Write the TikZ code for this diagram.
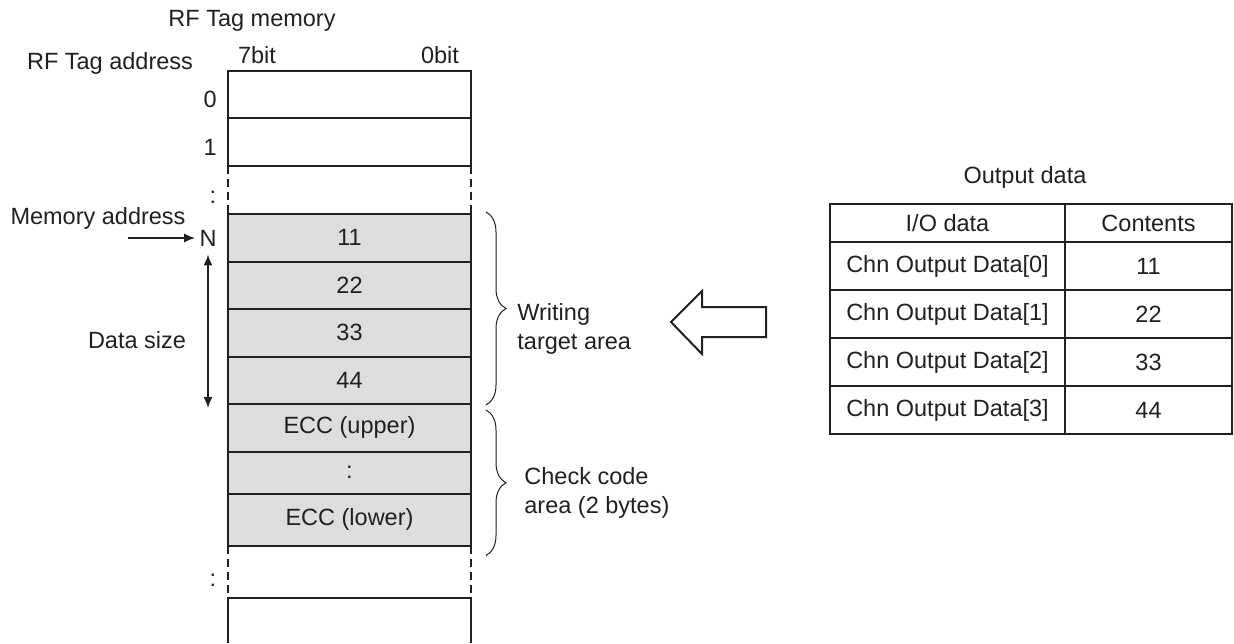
\documentclass[tikz,border=0pt]{standalone}
\usepackage{fontspec}
\setmainfont{Liberation Sans}
\usepackage{tikz}
\usetikzlibrary{arrows.meta, positioning, calc, decorations.pathreplacing}
\definecolor{tagInk}{HTML}{231F20}
\definecolor{tagCell}{HTML}{DCDDDE}

\begin{document}
\begin{tikzpicture}[
  x=0.5pt, y=-0.5pt,
  font=\fontsize{11.75}{14.5}\selectfont, color=tagInk,
  cell/.style={draw=tagInk, line width=1pt, minimum width=121.5pt, minimum height=23.75pt,
               inner sep=0pt, outer sep=0pt},
  wcell/.style={cell, fill=tagCell},
  lbl/.style={inner sep=0pt},
  gapline/.style={draw=tagInk, line width=1pt, dash pattern=on 4pt off 2.5pt},
  memline/.style={draw=tagInk, line width=1pt},
  brc/.style={draw=tagInk, line width=0.5pt, decorate, decoration={brace, amplitude=10pt}},
  ptr/.style={-{Latex[length=5.5pt, width=4.5pt]}, line width=0.8pt},
  dimarr/.style={{Latex[length=5.5pt, width=4.5pt]}-{Latex[length=5.5pt, width=4.5pt]}, line width=0.8pt},
  tcell/.style={draw=tagInk, line width=1pt, inner sep=0pt, outer sep=0pt, minimum height=24pt},
  iocol/.style={tcell, minimum width=117.5pt},
  ctcol/.style={tcell, minimum width=83.5pt},
  hollow/.style={draw=tagInk, line width=1pt, fill=white, line join=miter},
]
\useasboundingbox (0,0) rectangle (1234,643);

\node[lbl] (memtitle) at (252,21) {RF Tag memory};
\node[lbl] (addrtitle) at (110,63) {RF Tag address};
\node[lbl] (bit7) at (257,55) {7bit};
\node[lbl] (bit0) at (440,55) {0bit};

\node[cell] (row0) at (349.5,94.5) {};
\node[cell, below=0pt of row0] (row1) {};
\node[wcell] (d11) at (349.5,237.75) {11};
\node[wcell, below=0pt of d11] (d22) {22};
\node[wcell, below=0pt of d22] (d33) {33};
\node[wcell, below=0pt of d33] (d44) {44};
\node[wcell, below=0pt of d44] (eccU) {ECC (upper)};
\node[wcell, below=0pt of eccU, minimum height=21pt] (eccdots) {:};
\node[wcell, below=0pt of eccdots, minimum height=26pt] (eccL) {ECC (lower)};
\coordinate (endL) at (228,598);
\coordinate (endR) at (471,598);

\node[lbl, anchor=east, yshift=-2.5pt] (a0) at ([xshift=-5.5pt]row0.west) {0};
\node[lbl, anchor=east, yshift=-2.5pt] (a1) at ([xshift=-5.5pt]row1.west) {1};
\node[lbl] (adots) at (213,197) {:};
\node[lbl] (bdots) at (213,580) {:};

\draw[gapline] (row1.south west) -- (d11.north west);
\draw[gapline] (row1.south east) -- (d11.north east);
\draw[gapline] (eccL.south west) -- (endL);
\draw[gapline] (eccL.south east) -- (endR);
\draw[memline] (endL |- 0,643) -- (endL) -- (endR) -- (endR |- 0,643);

\node[lbl] (memaddr) at (98,218) {Memory address};
\node[inner sep=2pt] (N) at (208,238) {N};
\coordinate (mastart) at (128,238);
\draw[ptr] (mastart) -- (N.west);
\draw[dimarr] ([yshift=-2pt]N.south) -- ([yshift=-2pt]N.south |- d44.south);
\node[lbl] (dsize) at (137,340) {Data size};

\draw[brc] ([xshift=7.5pt, yshift=1pt]d11.north east) -- ([xshift=7.5pt, yshift=-0.5pt]d44.south east);
\node[lbl, align=left, anchor=west] (wlabel) at (517,329) {Writing\\target area};
\draw[brc] ([xshift=7.5pt, yshift=-3pt]eccU.north east) -- ([xshift=7.5pt, yshift=-5pt]eccL.south east);
\node[lbl, align=left, anchor=west] (clabel) at (524,493) {Check code\\area (2 bytes)};

\draw[hollow] (671,322) -- (702,291) -- (702,307) -- (766,307) -- (766,337) -- (702,337) -- (702,354) -- cycle;

\node[lbl] (outtitle) at (1025,177) {Output data};
\node[iocol, minimum height=19pt] (hIO) at (947.5,223) {I/O data};
\node[ctcol, minimum height=19pt, right=0pt of hIO] (hCt) {Contents};
\node[iocol, below=0pt of hIO] (io0) {Chn Output Data[0]};
\node[ctcol, right=0pt of io0] (ct0) {11};
\node[iocol, below=0pt of io0] (io1) {Chn Output Data[1]};
\node[ctcol, right=0pt of io1] (ct1) {22};
\node[iocol, below=0pt of io1] (io2) {Chn Output Data[2]};
\node[ctcol, right=0pt of io2] (ct2) {33};
\node[iocol, below=0pt of io2] (io3) {Chn Output Data[3]};
\node[ctcol, right=0pt of io3] (ct3) {44};
\end{tikzpicture}
\end{document}
